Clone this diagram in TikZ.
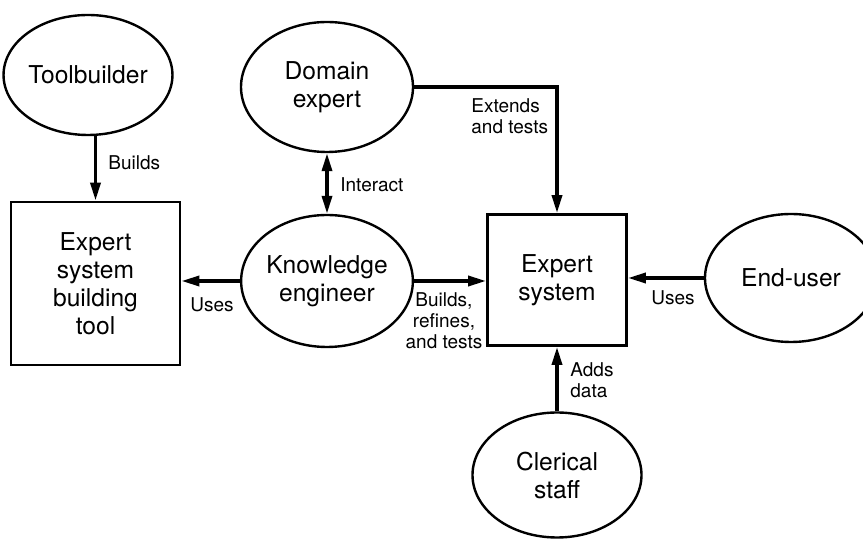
\documentclass[tikz,border=0pt]{standalone}
\usepackage{fontspec}
\setmainfont{TeX Gyre Heros}
\usetikzlibrary{arrows.meta,shapes.geometric}

\begin{document}
\begin{tikzpicture}[
    x=0.5pt, y=-0.5pt,
    >={Triangle[length=9pt,width=5pt]},
    actor/.style={ellipse, draw=black, line width=1.2pt, inner sep=0pt,
        align=center, font=\fontsize{12.3}{14}\selectfont},
    unit/.style={rectangle, draw=black, line width=1.4pt, inner sep=0pt,
        align=center, font=\fontsize{12.3}{14}\selectfont},
    lbl/.style={inner sep=0pt, font=\fontsize{9.5}{10.5}\selectfont},
    flow/.style={line width=1.7pt, ->}
]
    \useasboundingbox (0,0) rectangle (863,539);

    \node[actor, minimum width=79pt, minimum height=60pt] (tb) at (88,75) {Toolbuilder};
    \node[actor, minimum width=86pt, minimum height=65pt] (de) at (327,87) {Domain\\expert};
    \node[unit, minimum width=84.5pt, minimum height=81.5pt] (tool) at (95.5,283.5) {Expert\\system\\building\\tool};
    \node[actor, minimum width=85.5pt, minimum height=66pt] (ke) at (327,281) {Knowledge\\engineer};
    \node[unit, minimum width=69.5pt, minimum height=65.5pt] (es) at (557,280) {Expert\\system};
    \node[actor, minimum width=86pt, minimum height=64pt] (eu) at (791,278) {End-user};
    \node[actor, minimum width=84.5pt, minimum height=62.5pt] (cs) at (557,475) {Clerical\\staff};

    \node[lbl, anchor=west] (lbuilds) at (108,163) {Builds};
    \node[lbl, anchor=west] (linteract) at (340,185) {Interact};
    \node[lbl, anchor=west, align=left] (lextends) at (471,116) {Extends\\and tests};
    \node[lbl] (luses) at (212,305) {Uses};
    \node[lbl, align=center] (lrefines) at (444,321) {Builds,\\refines,\\and tests};
    \node[lbl] (lenduses) at (673,298) {Uses};
    \node[lbl, anchor=west, align=left] (ladds) at (570,380) {Adds\\data};

    \draw[flow] (tb.south -| tool.north) -- (tool.north);
    \draw[flow, <->] (de.south) -- (ke.north);
    \draw[flow] (de.east) -| (es.north);
    \draw[flow] (ke.west) -- (ke.west -| tool.east);
    \draw[flow] (ke.east) -- (ke.east -| es.west);
    \draw[flow] (eu.west) -- (eu.west -| es.east);
    \draw[flow] (cs.north) -- (es.south);
\end{tikzpicture}
\end{document}
